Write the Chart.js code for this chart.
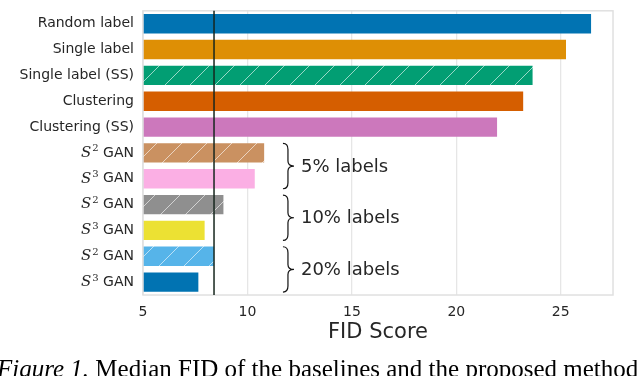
<!DOCTYPE html>
<html>
<head>
<meta charset="utf-8">
<script src="https://cdn.jsdelivr.net/npm/chart.js@4.4.1/dist/chart.umd.min.js"></script>
<style>
  html, body { margin: 0; padding: 0; background: #fff; }
  #wrap { width: 640px; height: 376px; position: relative; }
</style>
</head>
<body>
<div id="wrap"><canvas id="fidChart" width="640" height="376"></canvas></div>
<script>
// methods, top to bottom
const methods = ['Random label', 'Single label', 'Single label (SS)', 'Clustering', 'Clustering (SS)',
  'S^2 GAN', 'S^3 GAN', 'S^2 GAN', 'S^3 GAN', 'S^2 GAN', 'S^3 GAN'];
const fidScores = [26.45, 25.25, 23.65, 23.2, 21.95, 10.8, 10.35, 8.85, 7.95, 8.4, 7.65];
const barColors = ['#0173b2', '#de8f05', '#029e73', '#d55e00', '#cc78bc',
  '#ca9161', '#fbafe4', '#8f8f8f', '#ece133', '#56b4e9', '#0173b2'];
const hatched = [false, false, true, false, false, true, false, true, false, true, false];
const groupLabels = ['5% labels', '10% labels', '20% labels'];
const groupStart = [5, 7, 9];
const referenceFid = 8.4;
const xTicks = [5, 10, 15, 20, 25];

function hatch(color) {
    const c = document.createElement('canvas');
    c.width = 25; c.height = 25;
    const g = c.getContext('2d');
    g.fillStyle = color;
    g.fillRect(0, 0, 25, 25);
    g.strokeStyle = 'rgba(255,255,255,0.6)';
    g.lineWidth = 1;
    g.beginPath();
    g.moveTo(-2, 27); g.lineTo(27, -2);
    g.stroke();
    return g.createPattern(c, 'repeat');
}

const fills = barColors.map((c, i) => hatched[i] ? hatch(c) : c);

function drawMethodLabel(ctx, text, x, y) {
    const m = text.match(/^S\^(\d) (.*)$/);
    ctx.fillStyle = '#262626';
    ctx.textBaseline = 'middle';
    if (!m) {
        ctx.font = '14px "DejaVu Sans"';
        ctx.textAlign = 'right';
        ctx.fillText(text, x, y);
        return;
    }
    const rest = ' ' + m[2];
    ctx.font = '14px "DejaVu Sans"';
    const wRest = ctx.measureText(rest).width;
    ctx.font = '10px "DejaVu Serif"';
    const wSup = ctx.measureText(m[1]).width;
    ctx.font = 'italic 15px "DejaVu Serif"';
    const wS = ctx.measureText('S').width;
    let x0 = x - wRest - wSup - wS - 1;
    ctx.textAlign = 'left';
    ctx.fillText('S', x0, y);
    ctx.font = '10px "DejaVu Serif"';
    ctx.fillText(m[1], x0 + wS + 1, y - 4);
    ctx.font = '14px "DejaVu Sans"';
    ctx.fillText(rest, x0 + wS + wSup + 1, y);
}

const extras = {
    id: 'extras',
    afterDatasetsDraw(chart) {
        const ctx = chart.ctx;
        const area = chart.chartArea;
        const xs = chart.scales.x, ys = chart.scales.y;
        ctx.save();
        // frame
        ctx.strokeStyle = '#e0e0e0';
        ctx.lineWidth = 1.5;
        ctx.strokeRect(area.left, area.top, area.right - area.left, area.bottom - area.top);
        // reference line
        const rx = xs.getPixelForValue(referenceFid);
        ctx.strokeStyle = '#16261d';
        ctx.lineWidth = 1.5;
        ctx.beginPath();
        ctx.moveTo(rx, area.top);
        ctx.lineTo(rx, area.bottom);
        ctx.stroke();
        // method labels
        methods.forEach((m, i) => drawMethodLabel(ctx, m, area.left - 9, ys.getPixelForValue(i)));
        // braces and group labels
        groupLabels.forEach((lab, k) => {
            const y1 = ys.getPixelForValue(groupStart[k]) - 9.5;
            const y2 = ys.getPixelForValue(groupStart[k] + 1) + 10;
            const mid = (y1 + y2) / 2;
            const xl = xs.getPixelForValue(11.7), xb = xl + 5, xt = xl + 11;
            ctx.strokeStyle = '#111';
            ctx.lineWidth = 1.2;
            ctx.beginPath();
            ctx.moveTo(xl, y1);
            ctx.quadraticCurveTo(xb, y1, xb, y1 + 6);
            ctx.lineTo(xb, mid - 5);
            ctx.quadraticCurveTo(xb, mid, xt, mid);
            ctx.quadraticCurveTo(xb, mid, xb, mid + 5);
            ctx.lineTo(xb, y2 - 6);
            ctx.quadraticCurveTo(xb, y2, xl, y2);
            ctx.stroke();
            ctx.fillStyle = '#262626';
            ctx.font = '18px "DejaVu Sans"';
            ctx.textAlign = 'left';
            ctx.textBaseline = 'middle';
            ctx.fillText(lab, xt + 7, mid + 1);
        });
        // caption
        ctx.fillStyle = '#000';
        ctx.textBaseline = 'alphabetic';
        ctx.textAlign = 'left';
        ctx.font = 'italic 25px "Liberation Serif"';
        const cap1 = 'Figure 1.';
        ctx.fillText(cap1, -3, 377);
        const w1 = ctx.measureText(cap1).width;
        ctx.font = '25px "Liberation Serif"';
        ctx.fillText(' Median FID of the baselines and the proposed method', -3 + w1, 377);
        ctx.restore();
    }
};

new Chart(document.getElementById('fidChart').getContext('2d'), {
    type: 'bar',
    data: {
        labels: methods,
        datasets: [{
            data: fidScores,
            backgroundColor: fills,
            borderWidth: 0,
            barPercentage: 0.75,
            categoryPercentage: 1
        }]
    },
    options: {
        indexAxis: 'y',
        responsive: false,
        animation: false,
        events: [],
        layout: { padding: { top: 2, right: 27, left: 0, bottom: 0 } },
        plugins: { legend: { display: false }, tooltip: { enabled: false } },
        scales: {
            x: {
                min: 5,
                max: 27.5,
                afterBuildTicks: s => { s.ticks = xTicks.map(v => ({ value: v })); },
                afterFit: s => { s.height = 81; },
                grid: { color: '#e6e6e6', lineWidth: 1.3, drawTicks: false },
                border: { display: false },
                ticks: { font: { family: 'DejaVu Sans', size: 14 }, color: '#262626', padding: 9 },
                title: {
                    display: true, text: 'FID Score', color: '#262626',
                    font: { family: 'DejaVu Sans', size: 21 }, padding: { top: 0, bottom: 31 }
                }
            },
            y: {
                afterFit: s => { s.width = 143; },
                grid: { display: false },
                border: { display: false },
                ticks: { color: 'rgba(0,0,0,0)', font: { size: 13 } }
            }
        }
    },
    plugins: [extras]
});
</script>
</body>
</html>
